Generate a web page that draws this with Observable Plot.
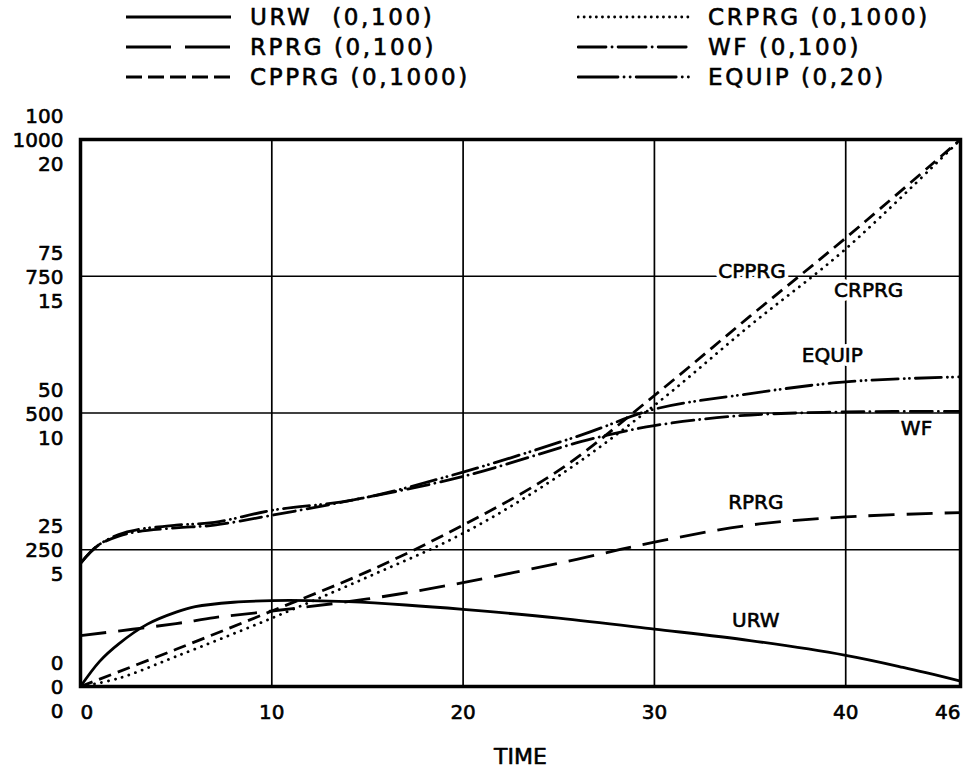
<!DOCTYPE html>
<html><head><meta charset="utf-8">
<script src="https://cdn.jsdelivr.net/npm/d3@7"></script>
<script src="https://cdn.jsdelivr.net/npm/@observablehq/plot@0.6"></script>
<style>
body{margin:0;background:#fff;}
#wrap{width:974px;height:770px;position:relative;font-family:"DejaVu Sans",sans-serif;background:#fff;}
#legend{position:relative;width:974px;height:100px;}
.item{position:absolute;display:flex;align-items:center;font-size:23px;color:#000;letter-spacing:2.6px;white-space:pre;height:30px;-webkit-text-stroke:0.6px #000;}
.item svg{margin-right:18px;}
</style></head><body><div id="wrap"><div id="legend"></div><div id="chart"></div></div>
<script>
// ---- data ----
const seriesNames = ["URW", "RPRG", "CPPRG", "CRPRG", "WF", "EQUIP"];
const seriesScaleMax = [100, 100, 1000, 1000, 100, 20];

const urwTime  = [0, 1, 2, 3.5, 5, 6, 8, 10, 12, 14, 17, 20, 25, 30, 35, 40, 43, 46];
const urwValue = [0, 4.6, 7.8, 11.4, 13.6, 14.6, 15.4, 15.7, 15.7, 15.5, 14.9, 14.1, 12.5, 10.5, 8.4, 5.7, 3.5, 1.0];

const rprgTime  = [0, 5, 7, 10, 15, 20, 26, 30, 35, 40, 46];
const rprgValue = [9.3, 11.5, 12.6, 13.8, 16, 19, 23.3, 26.4, 29.5, 31, 31.8];

const cpprgTime  = [0, 5, 10, 15, 20, 25, 30, 35, 40, 46];
const cpprgValue = [0, 68, 138, 210, 295, 395, 532, 677, 820, 1000];

const crprgTime  = [0, 2, 5, 10, 15, 20, 25, 30, 35, 40, 46];
const crprgValue = [0, 15, 55, 125, 200, 280, 385, 514, 660, 800, 1000];

const wfTime  = [0, 0.5, 1, 2, 3, 5, 7, 10, 14.4, 20, 26.2, 28, 30, 34.4, 40, 46];
const wfValue = [22.5, 24.5, 26, 27.5, 28.3, 29, 29.5, 31.3, 34.2, 38.4, 44.8, 46.3, 47.7, 49.5, 50.2, 50.3];

const equipTime  = [0, 0.5, 1, 2, 3, 5, 7, 10, 14.4, 20, 26.2, 30, 34.5, 40, 46];
const equipValue = [4.5, 4.9, 5.2, 5.56, 5.74, 5.9, 6.0, 6.44, 6.84, 7.84, 9.2, 10.14, 10.66, 11.14, 11.32];

// on-chart label positions (time, fraction of full scale)
const labelTime     = [35.3, 35.3, 35.1, 41.2, 43.7, 39.3];
const labelFraction = [0.12, 0.336, 0.759, 0.724, 0.472, 0.605];

// axis ticks
const xTicks = [0, 10, 20, 30, 40, 46];
const xGrid = [10, 20, 30, 40];
const yTickFractions = [0, 0.25, 0.5, 0.75, 1];
const yLabels100  = ["0", "25", "50", "75", "100"];
const yLabels1000 = ["0", "250", "500", "750", "1000"];
const yLabels20   = ["0", "5", "10", "15", "20"];
const legendLabels = ["URW  (0,100)", "RPRG (0,100)", "CPPRG (0,1000)", "CRPRG (0,1000)", "WF (0,100)", "EQUIP (0,20)"];

// ---- styles ----
const seriesDash = [null, "26 12", "13 7", "0.1 7", "22 6 0.1 6", "26 6 0.1 5 0.1 6"];
const legendDash = [null, "45 14", "16 6", "0.1 6", "28 6 0.1 6", "40 6 0.1 6 0.1 6"];

const seriesTime = [urwTime, rprgTime, cpprgTime, crprgTime, wfTime, equipTime];
const seriesValue = [urwValue, rprgValue, cpprgValue, crprgValue, wfValue, equipValue];

const FONT = "DejaVu Sans, sans-serif";
const isDotted = d => d && d.includes("0.1");

// ---- legend ----
const legend = d3.select("#legend");
const legendPos = [[125, 2, 107], [125, 32, 107], [125, 62, 107], [577, 2, 113], [577, 32, 113], [577, 62, 113]];
legendLabels.forEach((lab, i) => {
  const [left, top, w] = legendPos[i];
  const item = legend.append("div").attr("class", "item").style("left", left + "px").style("top", top + "px");
  const svg = item.append("svg").attr("width", w).attr("height", 30);
  svg.append("line").attr("x1", 1).attr("x2", w - 1).attr("y1", 15).attr("y2", 15)
    .attr("stroke", "#000").attr("stroke-width", 2.8)
    .attr("stroke-linecap", isDotted(seriesDash[i]) ? "round" : "butt")
    .attr("stroke-dasharray", legendDash[i]);
  item.append("span").text(lab);
});

// ---- chart ----
const lineMarks = seriesNames.map((name, i) => {
  const rows = seriesTime[i].map((t, j) => ({t, f: seriesValue[i][j] / seriesScaleMax[i]}));
  return Plot.line(rows, {
    x: "t", y: "f", stroke: "#000", strokeWidth: 2.8, curve: "catmull-rom",
    strokeDasharray: seriesDash[i],
    strokeLinecap: isDotted(seriesDash[i]) ? "round" : "butt"
  });
});

const labelRows = seriesNames.map((name, i) => ({name, t: labelTime[i], f: labelFraction[i]}));
const yRows = yTickFractions.map((f, i) => ({f, text: yLabels100[i] + "\n" + yLabels1000[i] + "\n" + yLabels20[i]}));
const xRows = xTicks.map(t => ({t}));
const txt = {fill: "#000", stroke: "#000", strokeWidth: 0.6};

const chart = Plot.plot({
  width: 974, height: 670,
  marginLeft: 80, marginRight: 14, marginTop: 39, marginBottom: 84,
  x: {domain: [0, 46], axis: null},
  y: {domain: [0, 1], axis: null},
  style: {fontFamily: FONT, background: "#fff", color: "#000"},
  marks: [
    Plot.ruleX(xGrid, {stroke: "#000", strokeWidth: 1.7}),
    Plot.ruleY([0.25, 0.5, 0.75], {stroke: "#000", strokeWidth: 1.7}),
    Plot.text(labelRows, {x: "t", y: "f", text: "name", fontSize: 20, fill: "#fff", stroke: "#fff", strokeWidth: 8, letterSpacing: "1.5px"}),
    ...lineMarks,
    Plot.text(labelRows, {x: "t", y: "f", text: "name", fontSize: 20, letterSpacing: "1.5px", ...txt}),
    Plot.frame({stroke: "#000", strokeWidth: 3.5}),
    Plot.text(yRows, {x: 0, y: "f", text: "text", textAnchor: "end", dx: -17, fontSize: 20, lineHeight: 1.2, ...txt}),
    Plot.text(xRows.filter(d => d.t === 0), {x: "t", y: 0, text: d => String(d.t), textAnchor: "start", dy: 26, fontSize: 20, ...txt}),
    Plot.text(xRows.filter(d => d.t > 0 && d.t < 46), {x: "t", y: 0, text: d => String(d.t), dy: 26, fontSize: 20, ...txt}),
    Plot.text(xRows.filter(d => d.t === 46), {x: "t", y: 0, text: d => String(d.t), textAnchor: "end", dy: 26, fontSize: 20, ...txt}),
    Plot.text(["TIME"], {frameAnchor: "bottom", dy: 77, text: d => d, fontSize: 22, letterSpacing: "1px", ...txt})
  ]
});
document.getElementById("chart").appendChild(chart);
</script></body></html>
